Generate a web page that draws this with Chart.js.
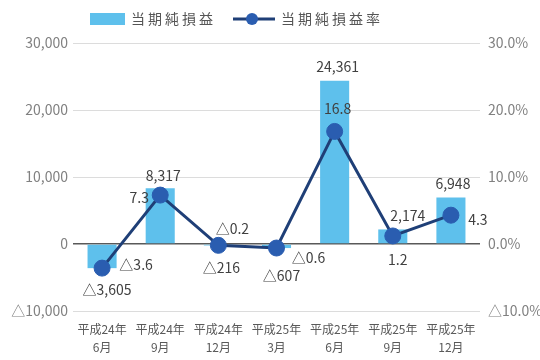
<!DOCTYPE html>
<html lang="ja">
<head>
<meta charset="utf-8">
<title>当期純損益の推移</title>
<script src="https://cdn.jsdelivr.net/npm/chart.js@4.4.1/dist/chart.umd.min.js"></script>
<style>
  html, body { margin: 0; padding: 0; background: #ffffff; }
  #wrap { width: 540px; height: 360px; }
</style>
</head>
<body>
<div id="wrap"><canvas id="chart" width="540" height="360"></canvas></div>
<script>
// Quarter labels (two lines each)
const categories = [
  ['平成24年', '6月'],
  ['平成24年', '9月'],
  ['平成24年', '12月'],
  ['平成25年', '3月'],
  ['平成25年', '6月'],
  ['平成25年', '9月'],
  ['平成25年', '12月'],
];

// 当期純損益 (bars, left axis)
const netIncome = [-3605, 8317, -216, -607, 24361, 2174, 6948];

// 当期純損益率 in % (line, right axis)
const netIncomeRate = [-3.6, 7.3, -0.2, -0.6, 16.8, 1.2, 4.3];

const seriesNames = ['当期純損益', '当期純損益率'];

// Where each value label sits relative to its mark [dx, dy]
const barLabelOffsets = [[5, 22], [3, -13], [3, 22], [5, 28], [3, -14], [15, -14], [2, -14]];
const lineLabelOffsets = [[34, -3], [-21, 3], [14, -17], [32, 10], [3, -23], [5, 24], [27, 4]];

const BAR_COLOR = '#5ec0ec';
const LINE_COLOR = '#1f3f77';
const POINT_COLOR = '#2a5db0';
const FONT = '"Noto Sans CJK JP", "Noto Sans", sans-serif';

// Negative numbers are written with a leading △
function fmtAmount(v) {
  const s = Math.abs(v).toLocaleString('en-US');
  return v < 0 ? '△' + s : s;
}
function fmtRate(v) {
  const s = Math.abs(v).toFixed(1);
  return v < 0 ? '△' + s : s;
}

// Legend drawn by hand so the swatches look like the series
const legendPlugin = {
  id: 'customLegend',
  afterDraw(chart) {
    const ctx = chart.ctx;
    const y = 19;
    ctx.save();
    ctx.font = '14px ' + FONT;
    ctx.letterSpacing = '3px';
    ctx.textBaseline = 'middle';
    ctx.textAlign = 'left';

    ctx.fillStyle = BAR_COLOR;
    ctx.fillRect(90, 13, 35, 12);
    ctx.fillStyle = '#555555';
    ctx.fillText(seriesNames[0], 131, y);

    ctx.strokeStyle = LINE_COLOR;
    ctx.lineWidth = 3;
    ctx.beginPath();
    ctx.moveTo(233, y);
    ctx.lineTo(275, y);
    ctx.stroke();
    ctx.fillStyle = POINT_COLOR;
    ctx.beginPath();
    ctx.arc(252, y, 6, 0, Math.PI * 2);
    ctx.fill();
    ctx.fillStyle = '#555555';
    ctx.fillText(seriesNames[1], 281, y);
    ctx.restore();
  }
};

// Value labels next to bars and points
const valueLabels = {
  id: 'valueLabels',
  afterDatasetsDraw(chart) {
    const ctx = chart.ctx;
    ctx.save();
    ctx.font = '14px ' + FONT;
    ctx.fillStyle = '#404040';
    ctx.textAlign = 'center';
    ctx.textBaseline = 'middle';
    chart.data.datasets.forEach((ds, di) => {
      const meta = chart.getDatasetMeta(di);
      const isBar = ds.type !== 'line';
      const offsets = isBar ? barLabelOffsets : lineLabelOffsets;
      meta.data.forEach((el, i) => {
        const v = ds.data[i];
        const text = isBar ? fmtAmount(v) : fmtRate(v);
        const [dx, dy] = offsets[i];
        ctx.fillText(text, el.x + dx, el.y + dy);
      });
    });
    ctx.restore();
  }
};

new Chart(document.getElementById('chart'), {
  data: {
    labels: categories,
    datasets: [
      {
        type: 'bar',
        label: seriesNames[0],
        data: netIncome,
        backgroundColor: BAR_COLOR,
        barPercentage: 0.5,
        categoryPercentage: 1,
        yAxisID: 'y',
        order: 2,
      },
      {
        type: 'line',
        label: seriesNames[1],
        data: netIncomeRate,
        borderColor: LINE_COLOR,
        borderWidth: 3,
        tension: 0,
        pointRadius: 8,
        pointBackgroundColor: POINT_COLOR,
        pointBorderColor: POINT_COLOR,
        pointBorderWidth: 1,
        yAxisID: 'y1',
        order: 1,
      },
    ],
  },
  options: {
    responsive: false,
    animation: false,
    layout: { padding: { top: 43, bottom: 0, left: 0, right: 0 } },
    plugins: {
      legend: { display: false },
      tooltip: { enabled: false },
    },
    scales: {
      x: {
        grid: { display: false },
        border: { display: false },
        ticks: {
          color: '#595959',
          font: { family: FONT, size: 12, lineHeight: 1.45 },
          padding: 2,
          maxRotation: 0,
          autoSkip: false,
        },
        afterFit(scale) { scale.height = 49; },
      },
      y: {
        position: 'left',
        min: -10000,
        max: 30000,
        ticks: {
          stepSize: 10000,
          color: '#808080',
          font: { family: FONT, size: 14 },
          padding: 5,
          callback: v => fmtAmount(v),
        },
        grid: {
          drawTicks: false,
          color: ctx => (ctx.tick && ctx.tick.value === 0 ? '#595959' : '#dcdcdc'),
          lineWidth: ctx => (ctx.tick && ctx.tick.value === 0 ? 1.5 : 1),
        },
        border: { display: false },
        afterFit(scale) { scale.width = 73; },
      },
      y1: {
        position: 'right',
        min: -10,
        max: 30,
        ticks: {
          stepSize: 10,
          color: '#808080',
          font: { family: FONT, size: 14 },
          padding: 8,
          callback: v => fmtRate(v) + '%',
        },
        grid: { display: false, drawTicks: false },
        border: { display: false },
        afterFit(scale) { scale.width = 60; },
      },
    },
  },
  plugins: [legendPlugin, valueLabels],
});
</script>
</body>
</html>
